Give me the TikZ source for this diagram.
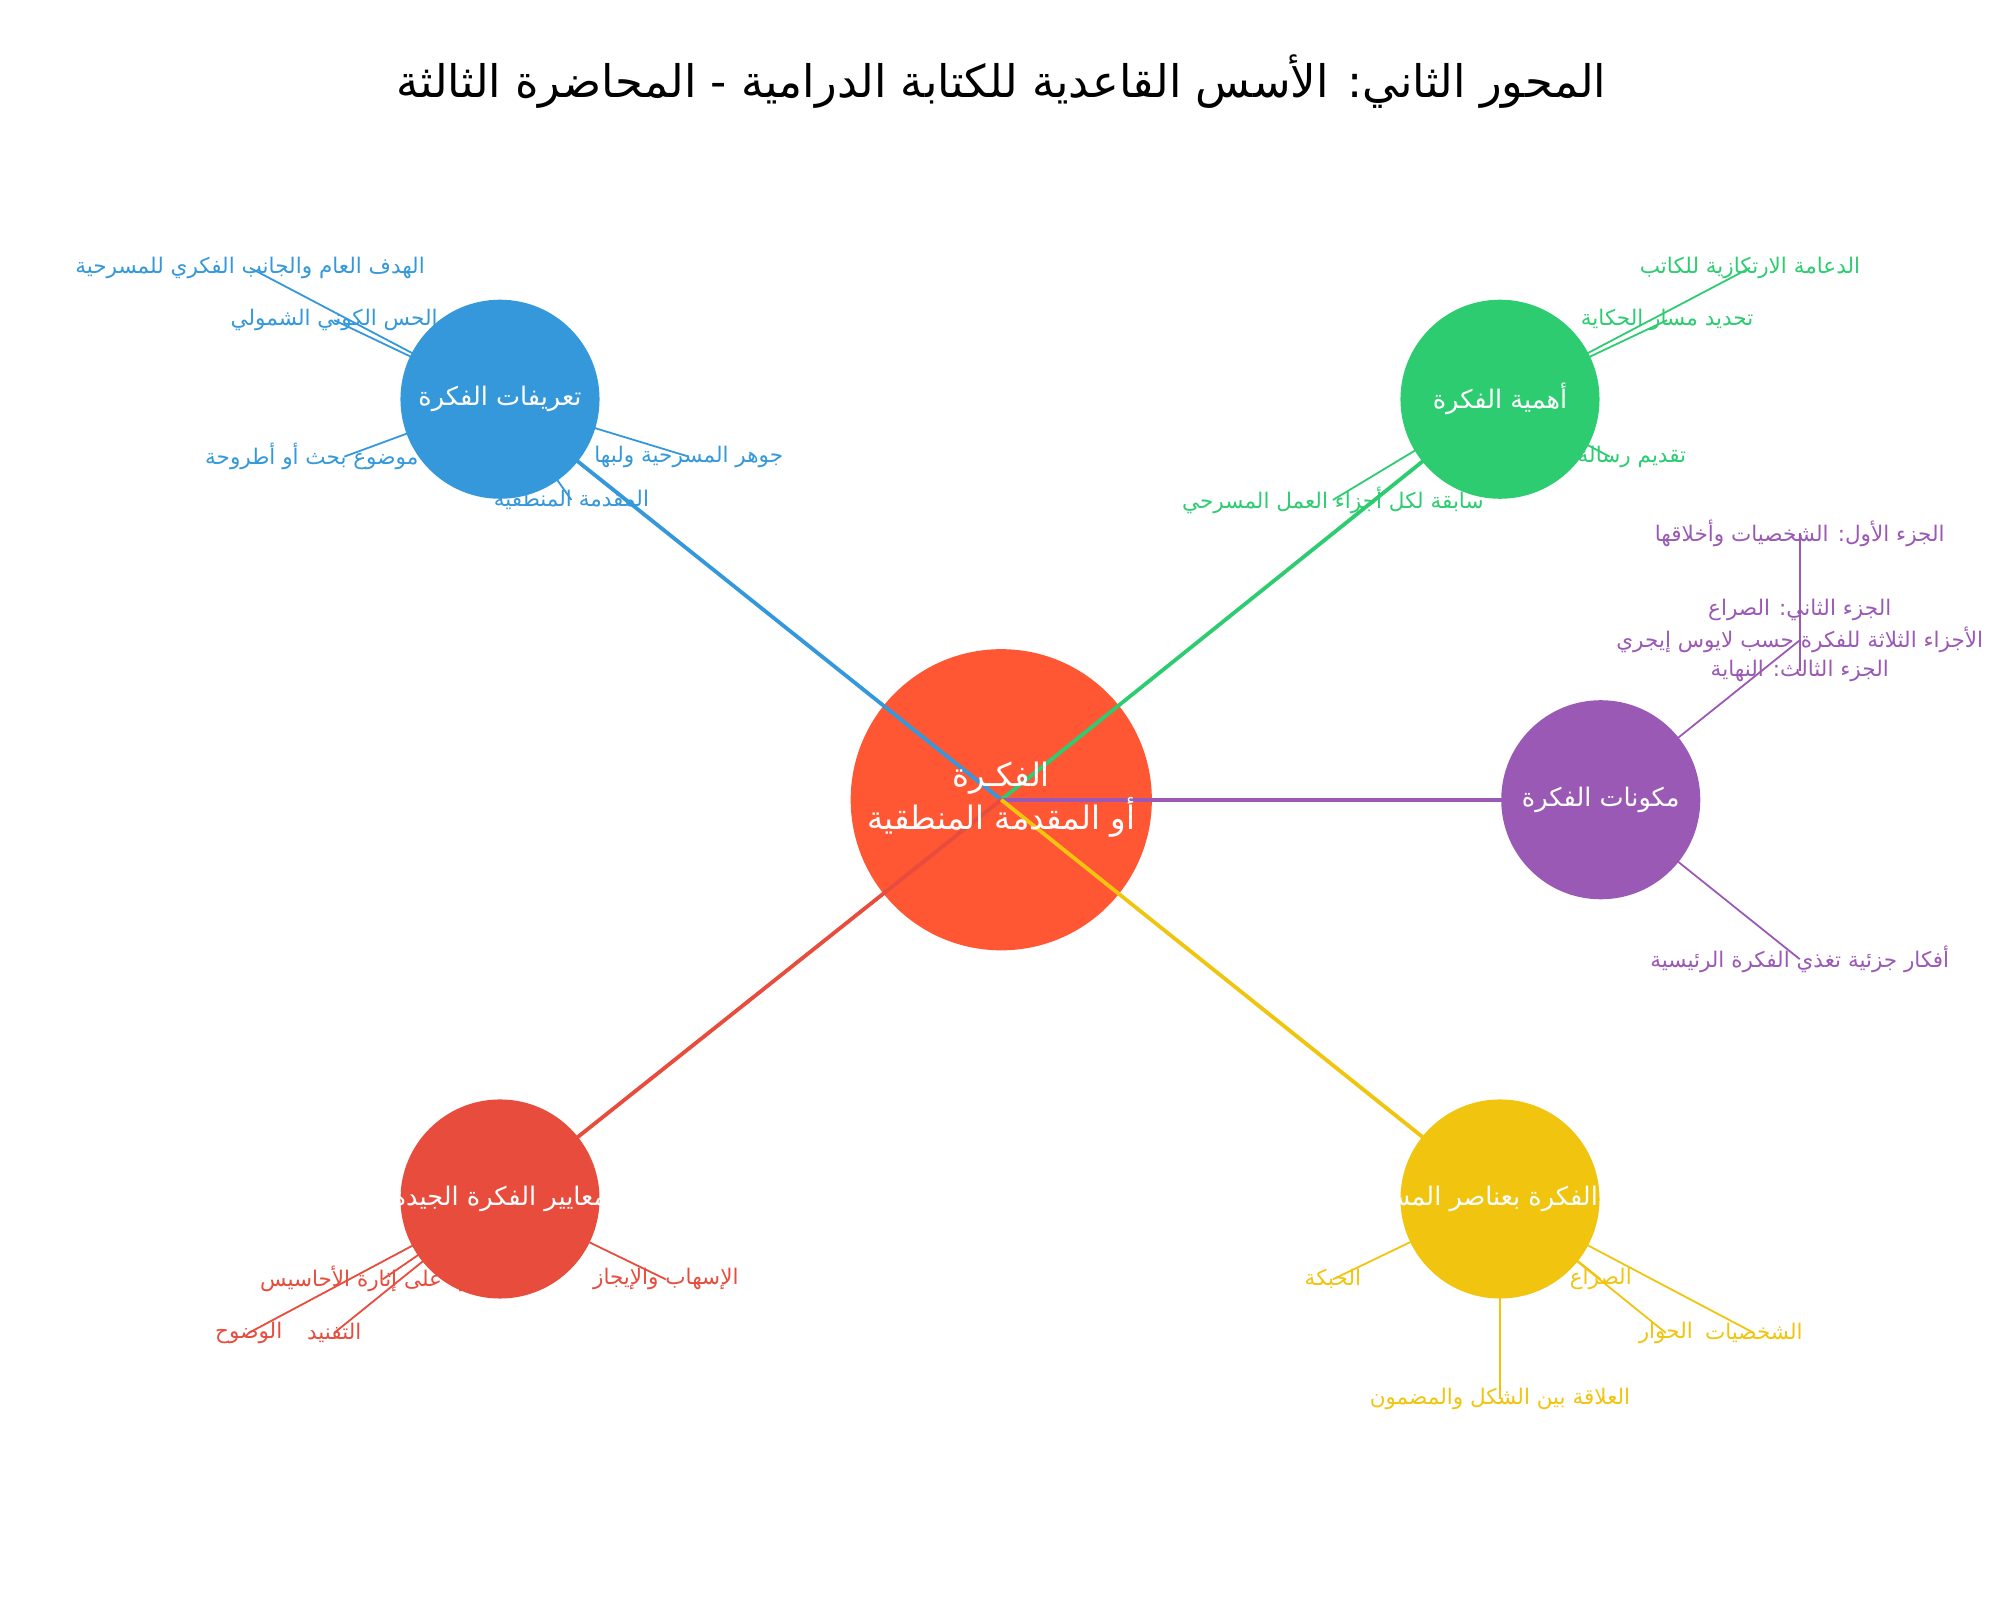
\documentclass[tikz,border=0pt]{standalone}
\usepackage{fontspec}
\setmainfont{DejaVu Sans}
\newfontfamily\arabicfont[Script=Arabic]{DejaVu Sans}
\TeXXeTstate=1
\usetikzlibrary{positioning}
\newcommand{\ar}[1]{{\arabicfont\beginR #1\endR}}
\definecolor{cblue}{HTML}{3498DB}
\definecolor{cgreen}{HTML}{2ECC71}
\definecolor{cpurple}{HTML}{9B59B6}
\definecolor{cred}{HTML}{E74C3C}
\definecolor{cyellow}{HTML}{F1C40F}
\definecolor{ccore}{HTML}{FF5733}
\tikzset{hub/.style={circle,fill=#1,minimum size=1.56cm,inner sep=0pt},
         hubtext/.style={text=white,font=\fontsize{5.7}{7}\selectfont,inner sep=0pt},
         leaf/.style={text=#1,font=\fontsize{4.8}{6}\selectfont,inner sep=0pt},
         trunk/.style={draw=#1,line width=0.85pt},
         twig/.style={draw=#1,line width=0.4pt},
        }

\begin{document}
\begin{tikzpicture}[x=0.01cm,y=-0.01cm]
        \useasboundingbox (0,0) rectangle (1568,1254);
        \node[font=\fontsize{10}{12}\selectfont](title)at(785,64){\ar{المحور الثاني: الأسس القاعدية للكتابة الدرامية - المحاضرة الثالثة}};

        \coordinate(cb)at(392,313);
        \coordinate(cg)at(1176,313);
        \coordinate(cp)at(1255,627);
        \coordinate(cr)at(392,940);
        \coordinate(cy)at(1176,940);

        \node[circle,fill=ccore,minimum size=2.36cm,inner sep=0pt](core)at(785,627){};
        \draw[trunk=cblue](core.center)--(cb);
        \draw[trunk=cgreen](core.center)--(cg);
        \draw[trunk=cpurple](core.center)--(cp);
        \draw[trunk=cred](core.center)--(cr);
        \draw[trunk=cyellow](core.center)--(cy);

        % definitions
        \node[leaf=cblue](b1)at(196,210){\ar{الهدف العام والجانب الفكري للمسرحية}};
        \node[leaf=cblue](b2)at(262,251){\ar{الحس الكوني الشمولي}};
        \node[leaf=cblue](b3)at(540,358){\ar{جوهر المسرحية ولبها}};
        \node[leaf=cblue](b4)at(270,358){\ar{الفكرة موضوع بحث أو أطروحة}};
        \node[leaf=cblue](b5)at(448,392){\ar{المقدمة المنطقية}};
        \foreach \n in {b1,b2,b3,b4,b5} \draw[twig=cblue](cb)--(\n.center);

        % importance
        \node[leaf=cgreen](g1)at(1372,210){\ar{الدعامة الارتكازية للكاتب}};
        \node[leaf=cgreen](g2)at(1307,251){\ar{تحديد مسار الحكاية}};
        \node[leaf=cgreen](g3)at(1262,358){\ar{تقديم رسالة نبيلة}};
        \node[leaf=cgreen](g4)at(1045,392){\ar{سابقة لكل أجزاء العمل المسرحي}};
        \foreach \n in {g1,g2,g3,g4} \draw[twig=cgreen](cg)--(\n.center);

        % components
        \node[leaf=cpurple](p1)at(1411,502){\ar{الأجزاء الثلاثة للفكرة حسب لايوس إيجري}};
        \node[leaf=cpurple](p11)at(1411,418){\ar{الجزء الأول: الشخصيات وأخلاقها}};
        \node[leaf=cpurple](p12)at(1411,478){\ar{الجزء الثاني: الصراع}};
        \node[leaf=cpurple](p13)at(1411,526){\ar{الجزء الثالث: النهاية}};
        \node[leaf=cpurple](p2)at(1411,752){\ar{أفكار جزئية تغذي الفكرة الرئيسية}};
        \draw[twig=cpurple](cp)--(p1.center);
        \draw[twig=cpurple](cp)--(p2.center);
        \foreach \n in {p11,p12,p13} \draw[twig=cpurple](p1.center)--(\n.center);

        % criteria
        \node[leaf=cred](r1)at(522,1003){\ar{الإسهاب والإيجاز}};
        \node[leaf=cred](r2)at(300,1003){\ar{القدرة على إثارة الأحاسيس}};
        \node[leaf=cred](r3)at(195,1045){\ar{الوضوح}};
        \node[leaf=cred](r4)at(262,1045){\ar{التفنيد}};
        \foreach \n in {r1,r2,r3,r4} \draw[twig=cred](cr)--(\n.center);

        % elements
        \node[leaf=cyellow](y1)at(1045,1003){\ar{الحبكة}};
        \node[leaf=cyellow](y2)at(1255,1003){\ar{الصراع}};
        \node[leaf=cyellow](y3)at(1306,1045){\ar{الحوار}};
        \node[leaf=cyellow](y4)at(1375,1045){\ar{الشخصيات}};
        \node[leaf=cyellow](y5)at(1176,1097){\ar{العلاقة بين الشكل والمضمون}};
        \foreach \n in {y1,y2,y3,y4,y5} \draw[twig=cyellow](cy)--(\n.center);

        \node[hub=cblue](nb)at(cb){};
        \node[hub=cgreen](ng)at(cg){};
        \node[hub=cpurple](np)at(cp){};
        \node[hub=cred](nr)at(cr){};
        \node[hub=cyellow](ny)at(cy){};

        \node[hubtext,font=\fontsize{7.2}{9.5}\selectfont,align=center](corelabel)at(core){\ar{الفكـرة}\\\ar{أو المقدمة المنطقية}};
        \node[hubtext](lb)at(nb){\ar{تعريفات الفكرة}};
        \node[hubtext](lg)at(ng){\ar{أهمية الفكرة}};
        \node[hubtext](lp)at(np){\ar{مكونات الفكرة}};
        \node[hubtext](lr)at(nr){\ar{معايير الفكرة الجيدة}};
        \node[hubtext](ly)at(ny){\ar{علاقة الفكرة بعناصر المسرحية}};
    \end{tikzpicture}
\end{document}
